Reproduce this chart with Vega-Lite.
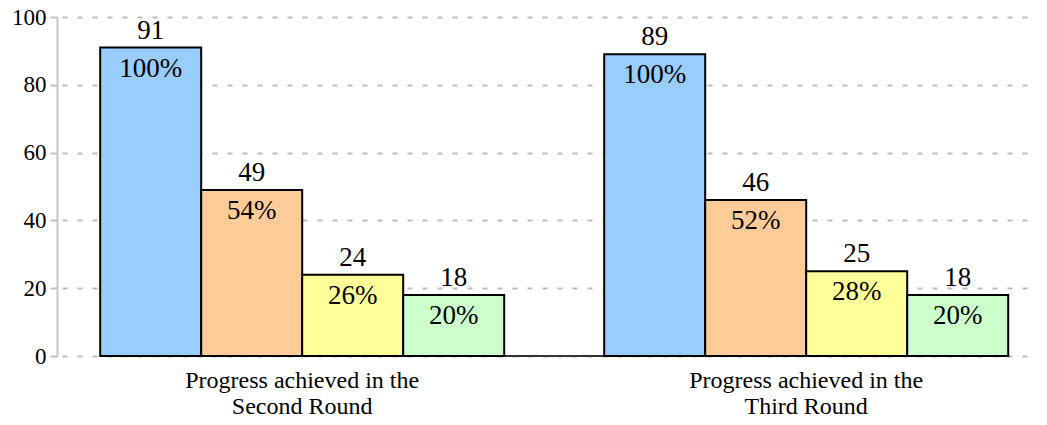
{
  "$schema": "https://vega.github.io/schema/vega-lite/v6.json",
  "autosize": "none",
  "width": 980,
  "height": 339,
  "padding": {"left": 57, "top": 17, "right": 10, "bottom": 69},
  "background": "white",
  "config": {
    "view": {"stroke": null},
    "font": "'Liberation Serif', serif"
  },
  "data": {
    "values": [
      {"group": "Second Round", "cat": "A", "value": 91, "pct": "100%"},
      {"group": "Second Round", "cat": "B", "value": 49, "pct": "54%"},
      {"group": "Second Round", "cat": "C", "value": 24, "pct": "26%"},
      {"group": "Second Round", "cat": "D", "value": 18, "pct": "20%"},
      {"group": "Third Round", "cat": "A", "value": 89, "pct": "100%"},
      {"group": "Third Round", "cat": "B", "value": 46, "pct": "52%"},
      {"group": "Third Round", "cat": "C", "value": 25, "pct": "28%"},
      {"group": "Third Round", "cat": "D", "value": 18, "pct": "20%"}
    ]
  },
  "encoding": {
    "x": {
      "field": "group",
      "type": "nominal",
      "sort": null,
      "scale": {"paddingInner": 0.1984, "paddingOuter": 0.0714, "align": 0.6},
      "axis": {
        "title": null,
        "labelAngle": 0,
        "domain": false,
        "ticks": false,
        "labelExpr": "['Progress achieved in the', datum.value]",
        "labelFont": "'Liberation Serif', serif",
        "labelFontSize": 24,
        "labelLimit": 500,
        "labelColor": "black",
        "labelPadding": 12,
        "labelLineHeight": 26
      }
    },
    "xOffset": {"field": "cat", "type": "nominal", "scale": {"paddingInner": 0, "paddingOuter": 0}},
    "y": {
      "field": "value",
      "type": "quantitative",
      "scale": {"domain": [0, 100], "nice": false},
      "axis": {
        "title": null,
        "values": [0, 20, 40, 60, 80, 100],
        "labelFont": "'Liberation Serif', serif",
        "labelFontSize": 23,
        "labelColor": "black",
        "labelPadding": 4,
        "domainColor": "#c8c8c8",
        "domainWidth": 2,
        "tickColor": "#c0c0c0",
        "tickSize": 7,
        "tickWidth": 2,
        "gridColor": "#bbbbbb",
        "gridWidth": 2,
        "gridDash": [5, 10],
        "gridDashOffset": -5
      }
    }
  },
  "layer": [
    {
      "mark": {"type": "rule", "color": "#333333", "strokeWidth": 2},
      "encoding": {
        "x": {"datum": "Second Round", "bandPosition": 0},
        "x2": {"datum": "Third Round", "bandPosition": 1},
        "y": {"datum": 0},
        "xOffset": null
      }
    },
    {
      "mark": {"type": "bar", "stroke": "black", "strokeWidth": 2},
      "encoding": {
        "color": {
          "field": "cat",
          "type": "nominal",
          "scale": {"domain": ["A", "B", "C", "D"], "range": ["#99ccff", "#ffcc99", "#ffff99", "#ccffcc"]},
          "legend": null
        }
      }
    },
    {
      "mark": {"type": "text", "baseline": "alphabetic", "dy": -9, "fontSize": 27, "color": "black", "font": "'Liberation Serif', serif"},
      "encoding": {"text": {"field": "value", "type": "quantitative"}}
    },
    {
      "mark": {"type": "text", "baseline": "alphabetic", "dy": 29, "fontSize": 27, "color": "black", "font": "'Liberation Serif', serif"},
      "encoding": {"text": {"field": "pct", "type": "nominal"}}
    }
  ]
}
